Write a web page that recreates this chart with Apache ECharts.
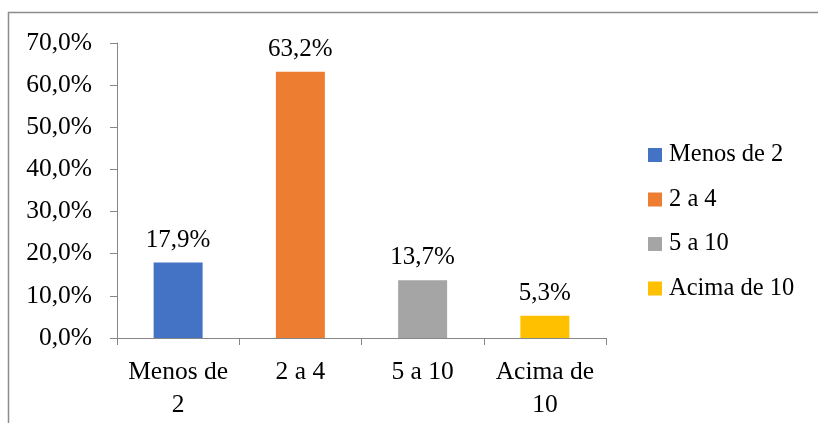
<!DOCTYPE html>
<html>
<head>
<meta charset="utf-8">
<script src="https://cdn.jsdelivr.net/npm/echarts@6/dist/echarts.min.js"></script>
<style>
  html, body { margin: 0; padding: 0; background: #fff; }
  #chart { width: 818px; height: 423px; }
</style>
</head>
<body>
<div id="chart"></div>
<script>
// Share of respondents by range
const categories = ['Menos de 2', '2 a 4', '5 a 10', 'Acima de 10'];
const axisLabels = ['Menos de\n2', '2 a 4', '5 a 10', 'Acima de\n10'];
const values = [17.9, 63.2, 13.7, 5.3];
const colors = ['#4472C4', '#ED7D31', '#A5A5A5', '#FFC000'];
const yTicks = [0, 10, 20, 30, 40, 50, 60, 70];

const FONT = "'Liberation Serif', 'Times New Roman', serif";
const pct = v => v.toFixed(1).replace('.', ',') + '%';

// one series per category so each gets its own legend entry; stacked to stay centred
const series = categories.map((name, i) => ({
  name: name,
  type: 'bar',
  stack: 'total',
  barWidth: 49,
  itemStyle: { color: colors[i] },
  data: values.map((v, j) => (j === i ? v : '-')),
  label: {
    show: true,
    position: 'top',
    distance: 10,
    fontFamily: FONT,
    fontSize: 25,
    color: '#000',
    formatter: p => pct(p.value)
  }
}));

const chart = echarts.init(document.getElementById('chart'), null, { renderer: 'canvas' });
chart.setOption({
  animation: false,
  backgroundColor: '#fff',
  textStyle: { fontFamily: FONT },
  graphic: [{
    type: 'rect',
    shape: { x: 8.5, y: 12.5, width: 830, height: 430 },
    style: { fill: 'none', stroke: '#8c8c8c', lineWidth: 1.5 },
    silent: true
  }],
  grid: { left: 117, right: 212, top: 43, bottom: 85 },
  legend: {
    orient: 'vertical',
    left: 643,
    top: 135,
    itemWidth: 14,
    itemHeight: 14,
    itemGap: 14.5,
    icon: 'rect',
    data: categories,
    textStyle: { fontFamily: FONT, fontSize: 24.5, color: '#000', lineHeight: 30, padding: [0, 0, 0, 2] }
  },
  xAxis: {
    type: 'category',
    data: axisLabels,
    axisLine: { lineStyle: { color: '#868686', width: 1 } },
    axisTick: { show: true, length: 7, alignWithLabel: false, lineStyle: { color: '#868686' } },
    axisLabel: { fontFamily: FONT, fontSize: 25.5, color: '#000', lineHeight: 33, margin: 18, interval: 0 }
  },
  yAxis: {
    type: 'value',
    min: yTicks[0],
    max: yTicks[yTicks.length - 1],
    interval: 10,
    splitLine: { show: false },
    axisLine: { show: true, lineStyle: { color: '#868686', width: 1 } },
    axisTick: { show: true, length: 7, lineStyle: { color: '#868686' } },
    axisLabel: { fontFamily: FONT, fontSize: 25.5, color: '#000', margin: 25, formatter: v => pct(v) }
  },
  series: series
});
</script>
</body>
</html>
